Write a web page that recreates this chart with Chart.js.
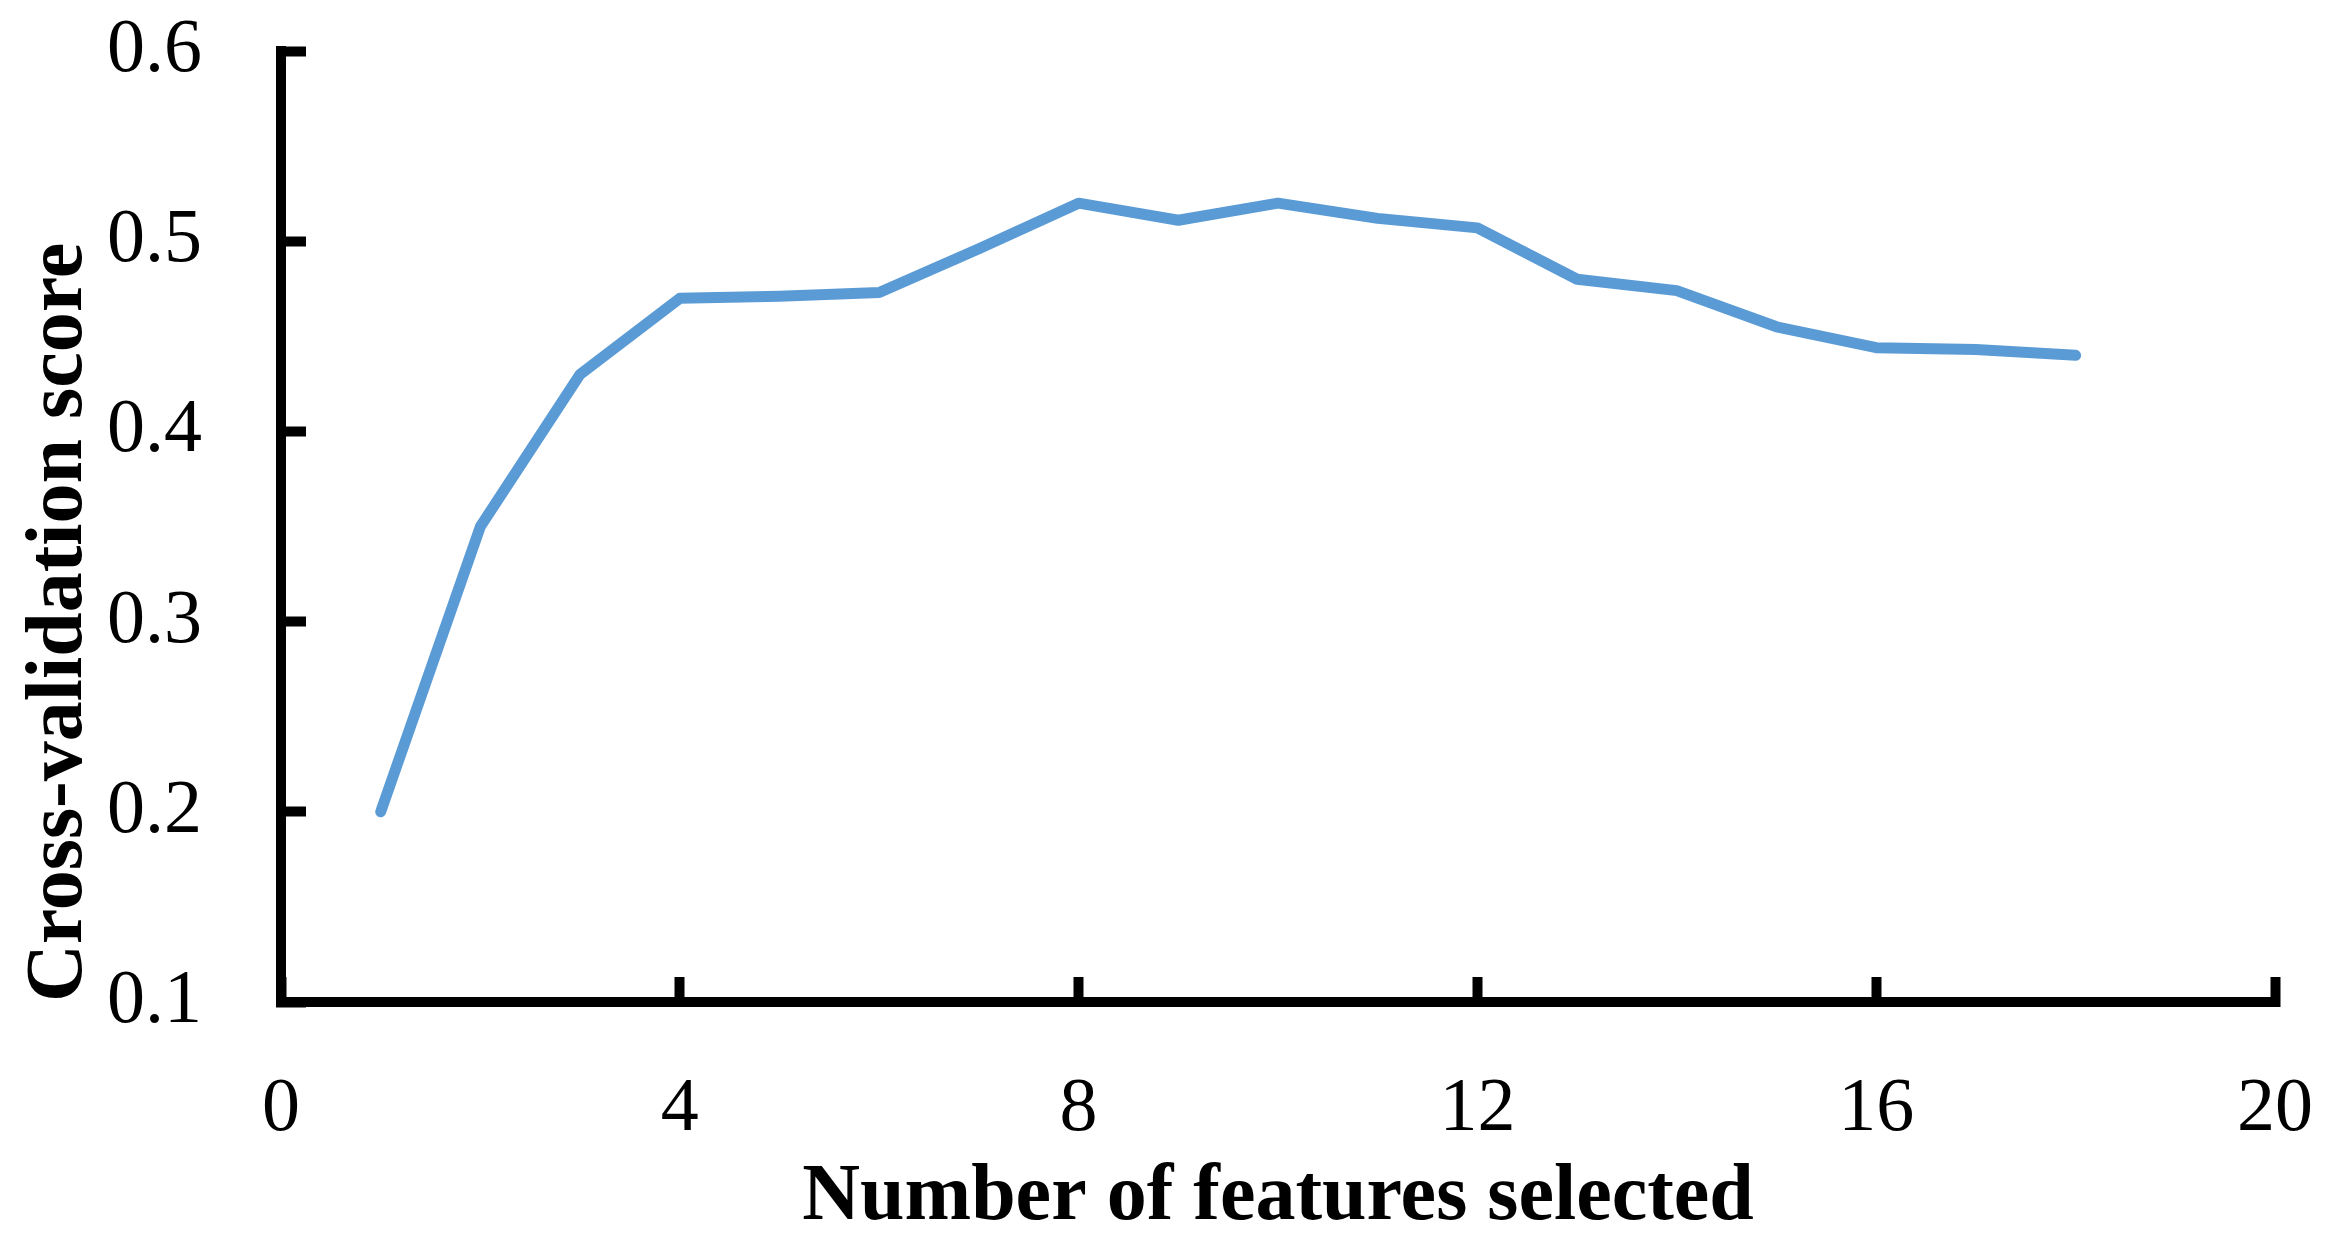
<!DOCTYPE html>
<html>
<head>
<meta charset="utf-8">
<script src="https://cdn.jsdelivr.net/npm/chart.js@4.4.1/dist/chart.umd.min.js"></script>
<style>
  html, body { margin: 0; padding: 0; background: #fff; }
  canvas { display: block; }
</style>
</head>
<body>
<canvas id="cvChart" width="2344" height="1253"></canvas>
<script>
// Number of features selected vs. cross-validation score
const featureCounts = [1, 2, 3, 4, 5, 6, 7, 8, 9, 10, 11, 12, 13, 14, 15, 16, 17, 18];
const cvScores = [0.200, 0.350, 0.430, 0.470, 0.471, 0.473, 0.496, 0.520, 0.511,
                  0.520, 0.512, 0.507, 0.480, 0.474, 0.455, 0.444, 0.443, 0.440];
const xTicks = [0, 4, 8, 12, 16, 20];
const yTicks = [0.1, 0.2, 0.3, 0.4, 0.5, 0.6];

const serif = "'Liberation Serif', 'Times New Roman', serif";

const points = featureCounts.map((n, i) => ({ x: n, y: cvScores[i] }));

new Chart(document.getElementById('cvChart'), {
    type: 'line',
    data: {
        datasets: [{
            data: points,
            borderColor: '#5B9BD5',
            borderWidth: 11,
            borderCapStyle: 'round',
            borderJoinStyle: 'round',
            pointRadius: 0,
            tension: 0,
            fill: false
        }]
    },
    options: {
        responsive: false,
        animation: false,
        layout: { padding: { left: 0, right: 69, top: 51, bottom: 0 } },
        plugins: {
            legend: { display: false },
            tooltip: { enabled: false }
        },
        scales: {
            x: {
                type: 'linear',
                min: xTicks[0],
                max: xTicks[xTicks.length - 1],
                afterBuildTicks: s => { s.ticks = xTicks.map(v => ({ value: v })); },
                afterFit: s => {
                    // fixed band under the plot, no label overhang padding
                    s.height = 251;
                    s.paddingLeft = 0;
                    s.paddingRight = 0;
                },
                border: { display: true, color: '#000', width: 10 },
                grid: {
                    drawOnChartArea: false,
                    drawTicks: true,
                    tickLength: -25,
                    tickWidth: 10,
                    tickColor: '#000'
                },
                ticks: {
                    color: '#000',
                    padding: 87,
                    maxRotation: 0,
                    font: { family: serif, size: 76 },
                    callback: v => String(v)
                },
                title: {
                    display: true,
                    text: 'Number of features selected',
                    color: '#000',
                    padding: { top: 0, bottom: 7 },
                    font: { family: serif, size: 80, weight: 'bold' }
                }
            },
            y: {
                min: yTicks[0],
                max: yTicks[yTicks.length - 1],
                afterBuildTicks: s => { s.ticks = yTicks.map(v => ({ value: v })); },
                afterFit: s => {
                    s.width = 281;
                    s.paddingTop = 0;
                    s.paddingBottom = 0;
                },
                border: { display: true, color: '#000', width: 10 },
                grid: {
                    drawOnChartArea: false,
                    drawTicks: true,
                    tickLength: -25,
                    tickWidth: 10,
                    tickColor: '#000'
                },
                ticks: {
                    color: '#000',
                    padding: 104,
                    font: { family: serif, size: 76 },
                    callback: v => Number(v).toFixed(1)
                },
                title: {
                    display: true,
                    text: 'Cross-validation score',
                    align: 'start',
                    color: '#000',
                    padding: { top: 12, bottom: 0 },
                    font: { family: serif, size: 80, weight: 'bold' }
                }
            }
        }
    }
});
</script>
</body>
</html>
